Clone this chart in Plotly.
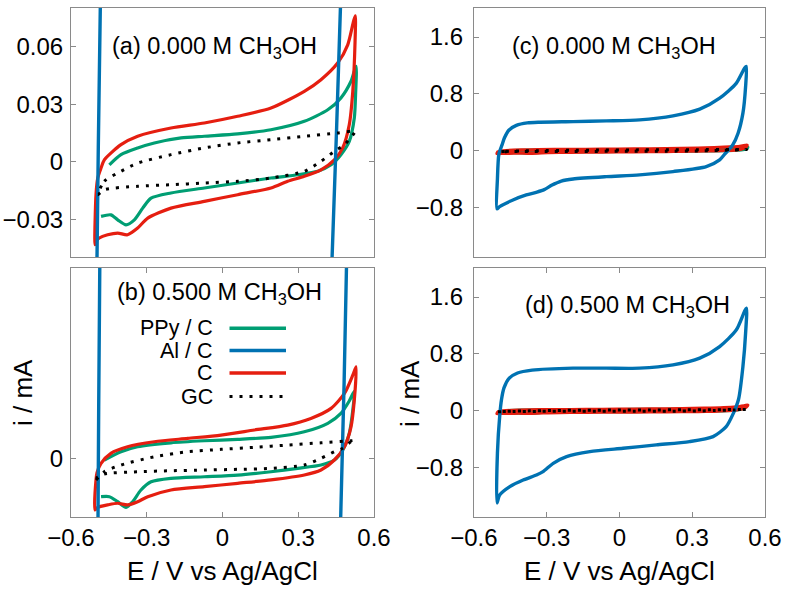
import plotly.graph_objects as go

# ---------------- data (E in V vs Ag/AgCl, i in mA) ----------------
# 0.000 M CH3OH
E_ppy_0 = [-0.448, -0.402, -0.336, -0.270, -0.164, -0.072, 0.060, 0.192, 0.324, 0.417, 0.469, 0.509, 0.529,
           0.527, 0.522, 0.502, 0.469, 0.430, 0.377, 0.298, 0.192, 0.060, -0.072, -0.204, -0.283, -0.316,
           -0.349, -0.382, -0.415, -0.442, -0.481]
I_ppy_0 = [-0.0016, 0.0037, 0.0072, 0.0098, 0.0124, 0.0133, 0.0145, 0.0167, 0.0211, 0.0271, 0.0333, 0.0420, 0.0498,
           0.0350, 0.0228, 0.0106, 0.0037, -0.0016, -0.0050, -0.0068, -0.0085, -0.0111, -0.0137, -0.0163, -0.0190,
           -0.0242, -0.0303, -0.0329, -0.0303, -0.0277, -0.0285]

E_c_0 = [-0.505, -0.501, -0.494, -0.481, -0.468, -0.402, -0.336, -0.204, -0.072, 0.060, 0.192, 0.324, 0.390, 0.456,
         0.496, 0.519, 0.526, 0.525, 0.516, 0.502, 0.476, 0.443, 0.390, 0.324, 0.258, 0.192, 0.060, -0.072, -0.204,
         -0.296, -0.336, -0.376, -0.415, -0.455, -0.488, -0.501, -0.505]
I_c_0 = [-0.0433, -0.0172, -0.0085, -0.0033, 0.0010, 0.0089, 0.0133, 0.0176, 0.0202, 0.0237, 0.0280, 0.0367, 0.0428,
         0.0515, 0.0610, 0.0733, 0.0761, 0.0628, 0.0367, 0.0193, 0.0072, 0.0010, -0.0042, -0.0076, -0.0102, -0.0137,
         -0.0172, -0.0207, -0.0242, -0.0294, -0.0346, -0.0381, -0.0372, -0.0381, -0.0398, -0.0416, -0.0433]

E_gc_0 = [-0.494, -0.468, -0.402, -0.336, -0.204, -0.072, 0.060, 0.192, 0.324, 0.456, 0.525,
          0.522, 0.483, 0.443, 0.390, 0.324, 0.192, 0.060, -0.072, -0.204, -0.336, -0.468, -0.494]
I_gc_0 = [-0.0172, -0.0102, -0.0050, -0.0007, 0.0037, 0.0072, 0.0098, 0.0115, 0.0133, 0.0150, 0.0159,
          0.0150, 0.0089, 0.0054, 0.0002, -0.0050, -0.0085, -0.0102, -0.0111, -0.0120, -0.0128, -0.0146, -0.0172]

E_al_0 = [-0.505, -0.503, -0.497, -0.484, -0.474, -0.455, -0.425, -0.380, -0.329, -0.191, -0.054, 0.083, 0.221,
          0.331, 0.413, 0.482, 0.516, 0.523, 0.520, 0.509, 0.489, 0.467, 0.434, 0.413, 0.358, 0.221, 0.083,
          -0.054, -0.191, -0.240, -0.280, -0.310, -0.340, -0.384, -0.439, -0.494, -0.505]
I_al_0 = [-0.82, -0.40, -0.05, 0.08, 0.18, 0.29, 0.355, 0.39, 0.400, 0.409, 0.419, 0.433, 0.490,
          0.584, 0.739, 0.951, 1.163, 1.185, 0.903, 0.528, 0.245, 0.08, -0.05, -0.131, -0.226, -0.296, -0.343,
          -0.367, -0.40, -0.43, -0.49, -0.55, -0.585, -0.625, -0.696, -0.79, -0.82]

# 0.500 M CH3OH
E_ppy_5 = [-0.468, -0.402, -0.336, -0.204, -0.072, 0.060, 0.192, 0.324, 0.417, 0.469, 0.502, 0.522,
           0.516, 0.502, 0.476, 0.443, 0.390, 0.298, 0.192, 0.060, -0.072, -0.204, -0.283, -0.323, -0.356,
           -0.382, -0.415, -0.448, -0.481]
I_ppy_5 = [-0.0014, 0.0055, 0.0097, 0.0130, 0.0147, 0.0159, 0.0176, 0.0222, 0.0293, 0.0376, 0.0480, 0.0560,
           0.0404, 0.0209, 0.0069, -0.0014, -0.0056, -0.0084, -0.0112, -0.0140, -0.0154, -0.0167, -0.0196, -0.0265,
           -0.0363, -0.0410, -0.0363, -0.0321, -0.0321]

E_c_5 = [-0.505, -0.501, -0.497, -0.481, -0.442, -0.376, -0.270, -0.138, -0.006, 0.126, 0.258, 0.350, 0.430, 0.483,
         0.516, 0.529, 0.522, 0.509, 0.483, 0.443, 0.390, 0.324, 0.192, 0.060, -0.072, -0.204, -0.296, -0.336,
         -0.376, -0.415, -0.455, -0.494, -0.505]
I_c_5 = [-0.0432, -0.0180, -0.0120, -0.0042, 0.0042, 0.0097, 0.0139, 0.0167, 0.0195, 0.0237, 0.0278, 0.0334, 0.0418,
         0.0543, 0.0696, 0.0766, 0.0487, 0.0264, 0.0097, -0.0014, -0.0098, -0.0140, -0.0181, -0.0209, -0.0237,
         -0.0265, -0.0321, -0.0363, -0.0390, -0.0376, -0.0390, -0.0410, -0.0432]

E_gc_5 = [-0.501, -0.468, -0.402, -0.270, -0.138, -0.006, 0.126, 0.258, 0.390, 0.509, 0.525,
          0.509, 0.476, 0.443, 0.390, 0.324, 0.192, 0.060, -0.072, -0.204, -0.336, -0.468, -0.501]
I_gc_5 = [-0.0181, -0.0112, -0.0056, 0.0013, 0.0055, 0.0075, 0.0092, 0.0111, 0.0130, 0.0147, 0.0150,
          0.0140, 0.0084, 0.0055, 0.0000, -0.0056, -0.0084, -0.0092, -0.0098, -0.0104, -0.0112, -0.0131, -0.0167]

E_al_5 = [-0.505, -0.503, -0.493, -0.486, -0.476, -0.455, -0.420, -0.360, -0.191, -0.054, 0.083, 0.221,
          0.331, 0.413, 0.482, 0.523, 0.520, 0.509, 0.491, 0.468, 0.440, 0.386, 0.289, 0.152, 0.015, -0.122,
          -0.218, -0.273, -0.315, -0.342, -0.397, -0.452, -0.494, -0.505]
I_al_5 = [-1.30, -0.60, -0.05, 0.16, 0.32, 0.455, 0.530, 0.570, 0.598, 0.598, 0.598, 0.645,
          0.739, 0.903, 1.139, 1.445, 1.092, 0.621, 0.16, -0.05, -0.226, -0.367, -0.437, -0.484, -0.531, -0.579,
          -0.649, -0.743, -0.861, -0.908, -0.978, -1.072, -1.19, -1.30]

panel_labels = ["(a) 0.000 M CH<sub>3</sub>OH", "(b) 0.500 M CH<sub>3</sub>OH",
                "(c) 0.000 M CH<sub>3</sub>OH", "(d) 0.500 M CH<sub>3</sub>OH"]
legend_names = ["PPy / C", "Al / C", "C", "GC"]
x_ticks = [-0.6, -0.3, 0, 0.3, 0.6]
x_ticktext = ["\u22120.6", "\u22120.3", "0", "0.3", "0.6"]
ya_ticks = [-0.03, 0, 0.03, 0.06]
ya_ticktext = ["\u22120.03", "0", "0.03", "0.06"]
yb_ticks = [0]
yb_ticktext = ["0"]
yc_ticks = [-0.8, 0, 0.8, 1.6]
yc_ticktext = ["\u22120.8", "0", "0.8", "1.6"]

# ---------------- styles ----------------
GREEN = "#009e73"
BLUE = "#0072b2"
RED = "#e51e10"
BLACK = "#000000"
FRAME = "#8a8a8a"
FONT = "Liberation Sans, Arial, sans-serif"
W = 792
H = 594
GC_DASH = "3px,7px"

fig = go.Figure()

datasets = [
    ("x", "y", (E_ppy_0, I_ppy_0), (E_c_0, I_c_0), (E_al_0, I_al_0), (E_gc_0, I_gc_0)),
    ("x2", "y2", (E_ppy_5, I_ppy_5), (E_c_5, I_c_5), (E_al_5, I_al_5), (E_gc_5, I_gc_5)),
    ("x3", "y3", (E_ppy_0, I_ppy_0), (E_c_0, I_c_0), (E_al_0, I_al_0), (E_gc_0, I_gc_0)),
    ("x4", "y4", (E_ppy_5, I_ppy_5), (E_c_5, I_c_5), (E_al_5, I_al_5), (E_gc_5, I_gc_5)),
]
for xa, ya, ppy, c, al, gc in datasets:
    fig.add_trace(go.Scatter(x=ppy[0], y=ppy[1], xaxis=xa, yaxis=ya, mode="lines",
                             line=dict(color=GREEN, width=3.2, shape="spline", smoothing=0.7),
                             name=legend_names[0], showlegend=False))
    fig.add_trace(go.Scatter(x=c[0], y=c[1], xaxis=xa, yaxis=ya, mode="lines",
                             line=dict(color=RED, width=3.2, shape="spline", smoothing=0.7),
                             name=legend_names[2], showlegend=False))
    fig.add_trace(go.Scatter(x=al[0], y=al[1], xaxis=xa, yaxis=ya, mode="lines",
                             line=dict(color=BLUE, width=3.4, shape="spline", smoothing=0.7),
                             name=legend_names[1], showlegend=False))
    fig.add_trace(go.Scatter(x=gc[0], y=gc[1], xaxis=xa, yaxis=ya, mode="lines",
                             line=dict(color=BLACK, width=3, dash=GC_DASH, shape="spline", smoothing=0.7),
                             name=legend_names[3], showlegend=False))

# domains (paper fractions)
xl = [71 / W, 374 / W]
xr = [473.9 / W, 765 / W]
yt = [1 - 257 / H, 1 - 8 / H]
yb = [1 - 517 / H, 1 - 268 / H]

tickfont = dict(family=FONT, size=24, color="black")


def xaxis(domain, anchor, show):
    d = dict(domain=domain, anchor=anchor, range=[-0.6, 0.6], showgrid=False, zeroline=False,
             automargin=False, showline=True, linecolor=FRAME, linewidth=1, tickfont=tickfont,
             tickvals=x_ticks, ticktext=x_ticktext, tickcolor=FRAME, ticklen=5)
    if show:
        d.update(mirror="ticks", ticks="inside", showticklabels=True, ticklabelstandoff=-1)
    else:
        d.update(mirror=True, ticks="", showticklabels=False)
    return d


def yaxis(domain, anchor, rng, vals, text, standoff):
    return dict(domain=domain, anchor=anchor, range=rng, showgrid=False, zeroline=False,
                automargin=False, showline=True, linecolor=FRAME, linewidth=1, mirror="ticks",
                ticks="inside", ticklen=5, tickcolor=FRAME, tickvals=vals, ticktext=text,
                tickfont=tickfont, ticklabelstandoff=standoff)


fig.update_layout(
    template="none",
    width=W, height=H, margin=dict(l=0, r=0, t=0, b=0, pad=0),
    paper_bgcolor="white", plot_bgcolor="white", showlegend=False,
    font=dict(family=FONT, color="black"),
    xaxis=xaxis(xl, "y", False),
    yaxis=yaxis(yt, "x", [-0.0497, 0.0802], ya_ticks, ya_ticktext, 2),
    xaxis2=xaxis(xl, "y2", True),
    yaxis2=yaxis(yb, "x2", [-0.0491, 0.1593], yb_ticks, yb_ticktext, 2),
    xaxis3=xaxis(xr, "y3", False),
    yaxis3=yaxis(yt, "x3", [-1.5, 2.01], yc_ticks, yc_ticktext, 5),
    xaxis4=xaxis(xr, "y4", True),
    yaxis4=yaxis(yb, "x4", [-1.5, 2.01], yc_ticks, yc_ticktext, 5),
)

ann = []
label_pos = [(110, 47), (115, 293), (510, 47), (522.7, 306.7)]
for txt, (px, py) in zip(panel_labels, label_pos):
    ann.append(dict(text=txt, xref="paper", yref="paper", x=px / W, y=1 - py / H,
                    xanchor="left", yanchor="middle", showarrow=False,
                    font=dict(family=FONT, size=23.5, color="black")))
for cx in (222.5, 619):
    ann.append(dict(text="E / V vs Ag/AgCl", xref="paper", yref="paper", x=cx / W, y=1 - 570.5 / H,
                    xanchor="center", yanchor="middle", showarrow=False,
                    font=dict(family=FONT, size=26, color="black")))
for cx in (23, 410):
    ann.append(dict(text="i / mA", xref="paper", yref="paper", x=cx / W, y=1 - 393 / H,
                    xanchor="center", yanchor="middle", textangle=-90, showarrow=False,
                    font=dict(family=FONT, size=26, color="black")))

# legend drawn in panel (b): text right-aligned, sample to the right
leg_rows = [328.3, 350.5, 373, 396.5]
leg_colors = [GREEN, BLUE, RED, BLACK]
leg_dash = ["solid", "solid", "solid", GC_DASH]
shapes = []
for name, py, col, dsh in zip(legend_names, leg_rows, leg_colors, leg_dash):
    ann.append(dict(text=name, xref="paper", yref="paper", x=215 / W, y=1 - py / H,
                    xanchor="right", yanchor="middle", showarrow=False,
                    font=dict(family=FONT, size=21.5, color="black")))
    shapes.append(dict(type="line", xref="paper", yref="paper", x0=229.5 / W, x1=286 / W,
                       y0=1 - py / H, y1=1 - py / H,
                       line=dict(color=col, width=3.5 if dsh == "solid" else 3, dash=dsh)))

fig.update_layout(annotations=ann, shapes=shapes)
fig.write_html("out.html")
